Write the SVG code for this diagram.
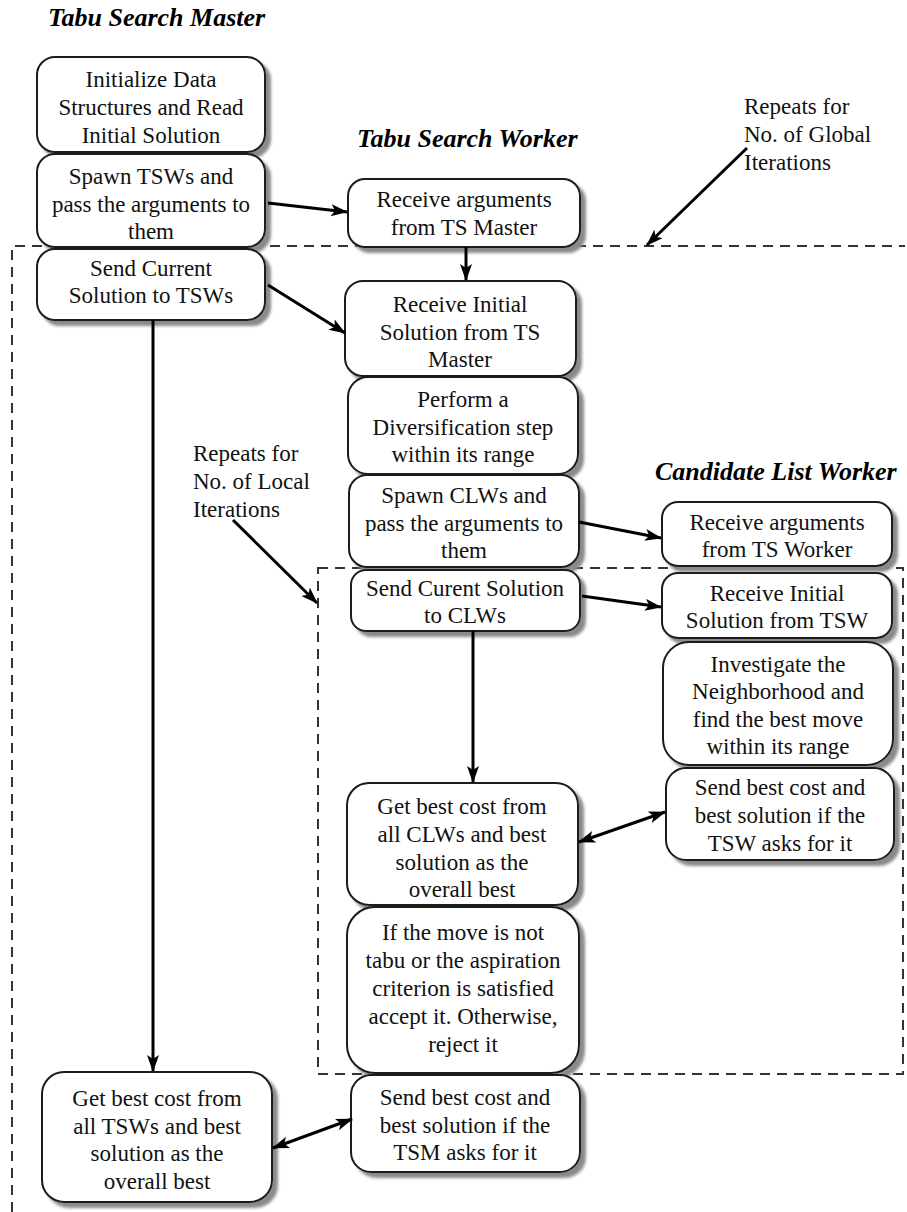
<svg xmlns="http://www.w3.org/2000/svg" width="907" height="1212" viewBox="0 0 907 1212">
<defs>
<filter id="sh" x="-10%" y="-10%" width="130%" height="130%">
<feGaussianBlur in="SourceAlpha" stdDeviation="1.5" result="b"/>
<feOffset in="b" dx="5" dy="5" result="o"/>
<feFlood flood-color="#8a8a8a"/>
<feComposite in2="o" operator="in" result="s"/>
<feMerge><feMergeNode in="s"/><feMergeNode in="SourceGraphic"/></feMerge>
</filter>
<marker id="ah" markerUnits="userSpaceOnUse" markerWidth="18" markerHeight="14" refX="16" refY="6" orient="auto-start-reverse">
<path d="M0,0 L17,6 L0,12 L4,6 z" fill="#000"/>
</marker>
</defs>
<style>
.box{fill:#fff;stroke:#1a1a1a;stroke-width:2;filter:url(#sh)}
.t{font-family:"Liberation Serif","Times New Roman",serif;font-size:23px;fill:#111;text-anchor:middle}
.n{font-family:"Liberation Serif","Times New Roman",serif;font-size:23px;fill:#111}
.h{font-family:"Liberation Serif","Times New Roman",serif;font-size:26px;font-weight:bold;font-style:italic;fill:#000}
.c{stroke:#000;stroke-width:3;fill:none}
.d{stroke:#333;stroke-width:2;fill:none;stroke-dasharray:10 7}
</style>

<text class="h" x="48" y="26">Tabu Search Master</text>
<text class="h" x="357" y="147">Tabu Search Worker</text>
<text class="h" x="655" y="480">Candidate List Worker</text>

<g id="frames">
<path class="d" d="M12,1212 V246 H905"/>
<rect class="d" x="318" y="568" width="585" height="506"/>
</g>

<g id="tsm-init"><rect class="box" x="37" y="57" width="228" height="95" rx="18"/>
<text class="t" x="151" y="87">Initialize Data</text><text class="t" x="151" y="115">Structures and Read</text><text class="t" x="151" y="143">Initial Solution</text></g>

<g id="tsm-spawn"><rect class="box" x="37" y="154" width="228" height="93" rx="18"/>
<text class="t" x="151" y="184">Spawn TSWs and</text><text class="t" x="151" y="212">pass the arguments to</text><text class="t" x="151" y="239">them</text></g>

<g id="tsm-send"><rect class="box" x="37" y="249" width="228" height="71" rx="18"/>
<text class="t" x="151" y="276">Send Current</text><text class="t" x="151" y="303">Solution to TSWs</text></g>

<g id="tsm-get"><rect class="box" x="42" y="1072" width="230" height="130" rx="22"/>
<text class="t" x="157" y="1106">Get best cost from</text><text class="t" x="157" y="1134">all TSWs and best</text><text class="t" x="157" y="1161">solution as the</text><text class="t" x="157" y="1189">overall best</text></g>

<g id="tsw-recv-args"><rect class="box" x="348" y="179" width="232" height="68" rx="17"/>
<text class="t" x="464" y="207">Receive arguments</text><text class="t" x="464" y="235">from TS Master</text></g>

<g id="tsw-recv-init"><rect class="box" x="345" y="281" width="231" height="95" rx="18"/>
<text class="t" x="460" y="312">Receive Initial</text><text class="t" x="460" y="340">Solution from TS</text><text class="t" x="460" y="367">Master</text></g>

<g id="tsw-divers"><rect class="box" x="348" y="377" width="230" height="97" rx="20"/>
<text class="t" x="463" y="407">Perform a</text><text class="t" x="463" y="435">Diversification step</text><text class="t" x="463" y="462">within its range</text></g>

<g id="tsw-spawn"><rect class="box" x="349" y="475" width="230" height="92" rx="18"/>
<text class="t" x="464" y="503">Spawn CLWs and</text><text class="t" x="464" y="531">pass the arguments to</text><text class="t" x="464" y="558">them</text></g>

<g id="tsw-send"><rect class="box" x="351" y="570" width="229" height="61" rx="15"/>
<text class="t" x="465" y="596">Send Curent Solution</text><text class="t" x="465" y="623">to CLWs</text></g>

<g id="tsw-get"><rect class="box" x="347" y="783" width="231" height="122" rx="22"/>
<text class="t" x="462" y="814">Get best cost from</text><text class="t" x="462" y="842">all CLWs and best</text><text class="t" x="462" y="870">solution as the</text><text class="t" x="462" y="897">overall best</text></g>

<g id="tsw-tabu"><rect class="box" x="347" y="907" width="232" height="166" rx="28"/>
<text class="t" x="463" y="940">If the move is not</text><text class="t" x="463" y="968">tabu or the aspiration</text><text class="t" x="463" y="996">criterion is satisfied</text><text class="t" x="463" y="1024">accept it. Otherwise,</text><text class="t" x="463" y="1052">reject it</text></g>

<g id="tsw-sendbest"><rect class="box" x="351" y="1075" width="229" height="97" rx="20"/>
<text class="t" x="465" y="1105">Send best cost and</text><text class="t" x="465" y="1133">best solution if the</text><text class="t" x="465" y="1160">TSM asks for it</text></g>

<g id="clw-recv-args"><rect class="box" x="662" y="502" width="230" height="64" rx="16"/>
<text class="t" x="777" y="530">Receive arguments</text><text class="t" x="777" y="557">from TS Worker</text></g>

<g id="clw-recv-init"><rect class="box" x="662" y="573" width="230" height="65" rx="16"/>
<text class="t" x="777" y="601">Receive Initial</text><text class="t" x="777" y="628">Solution from TSW</text></g>

<g id="clw-invest"><rect class="box" x="663" y="642" width="230" height="123" rx="26"/>
<text class="t" x="778" y="672">Investigate the</text><text class="t" x="778" y="699">Neighborhood and</text><text class="t" x="778" y="727">find the best move</text><text class="t" x="778" y="754">within its range</text></g>

<g id="clw-sendbest"><rect class="box" x="666" y="768" width="228" height="92" rx="20"/>
<text class="t" x="780" y="795">Send best cost and</text><text class="t" x="780" y="823">best solution if the</text><text class="t" x="780" y="851">TSW asks for it</text></g>

<g id="notes">
<text class="n" x="744" y="114">Repeats for</text><text class="n" x="744" y="142">No. of Global</text><text class="n" x="744" y="170">Iterations</text>
<text class="n" x="193" y="461">Repeats for</text><text class="n" x="193" y="489">No. of Local</text><text class="n" x="193" y="517">Iterations</text>
</g>

<g id="connectors">
<line class="c" x1="268" y1="203" x2="347" y2="212" marker-end="url(#ah)"/>
<line class="c" x1="466" y1="247" x2="466" y2="280" marker-end="url(#ah)"/>
<line class="c" x1="268" y1="285" x2="345" y2="333" marker-end="url(#ah)"/>
<line class="c" x1="579" y1="522" x2="661" y2="538" marker-end="url(#ah)"/>
<line class="c" x1="582" y1="596" x2="661" y2="607" marker-end="url(#ah)"/>
<line class="c" x1="473" y1="631" x2="473" y2="782" marker-end="url(#ah)"/>
<line class="c" x1="579" y1="842" x2="665" y2="812" marker-start="url(#ah)" marker-end="url(#ah)"/>
<line class="c" x1="153" y1="320" x2="153" y2="1071" marker-end="url(#ah)"/>
<line class="c" x1="273" y1="1148" x2="352" y2="1119" marker-start="url(#ah)" marker-end="url(#ah)"/>
<line class="c" x1="747" y1="148" x2="647" y2="245" marker-end="url(#ah)"/>
<line class="c" x1="233" y1="520" x2="317" y2="603" marker-end="url(#ah)"/>
</g>
</svg>
